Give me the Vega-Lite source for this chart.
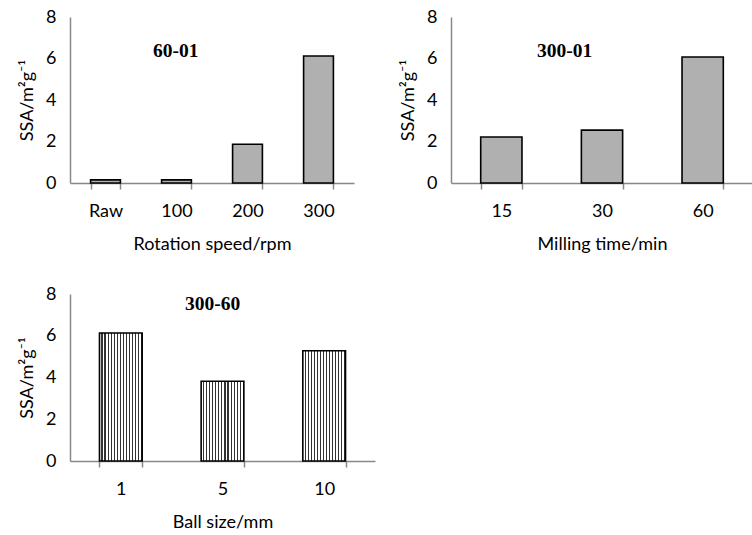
{
  "$schema": "https://vega.github.io/schema/vega-lite/v6.json",
  "background": "white",
  "padding": {"left": 18, "top": 8, "right": 0, "bottom": 0},
  "datasets": {
    "speed": [
      {"speed": "Raw", "ssa": 0.15},
      {"speed": "100", "ssa": 0.15},
      {"speed": "200", "ssa": 1.87},
      {"speed": "300", "ssa": 6.12}
    ],
    "time": [
      {"time": "15", "ssa": 2.22},
      {"time": "30", "ssa": 2.55},
      {"time": "60", "ssa": 6.07}
    ],
    "ball": [
      {"ball": "1", "ssa": 6.13},
      {"ball": "5", "ssa": 3.82},
      {"ball": "10", "ssa": 5.28}
    ]
  },
  "config": {
    "view": {"stroke": null},
    "axis": {
      "labelFont": "Lato", "labelFontSize": 18, "labelColor": "black",
      "titleFont": "Lato", "titleFontSize": 18, "titleFontWeight": "normal", "titleColor": "black",
      "domainColor": "#888888", "domainWidth": 1.5, "tickColor": "#888888", "tickWidth": 1.5, "grid": false, "zindex": 1
    },
    "axisY": {"ticks": false, "labelPadding": 14, "titlePadding": 9},
    "axisX": {"labelAngle": 0, "domain": true, "ticks": true, "tickBand": "extent", "tickSize": 6, "labelPadding": 13, "titlePadding": 15},
    "title": {"font": "Liberation Serif", "fontWeight": "bold", "fontSize": 19.5, "color": "black", "anchor": "start", "frame": "group", "baseline": "middle"},
    "bar": {"stroke": "black", "strokeWidth": 1.6}
  },
  "spacing": 32,
  "vconcat": [
    {
      "spacing": 45,
      "hconcat": [
        {
          "width": 284, "height": 166,
          "data": {"name": "speed"},
          "title": {"text": "60-01", "dx": 83, "offset": -53},
          "mark": {"type": "bar", "fill": "#b0b0b0"},
          "encoding": {
            "x": {"field": "speed", "type": "nominal", "sort": null, "title": "Rotation speed/rpm", "scale": {"paddingInner": 0.58}},
            "y": {"field": "ssa", "type": "quantitative", "title": "SSA/m²g⁻¹", "scale": {"domain": [0, 8]}, "axis": {"values": [0, 2, 4, 6, 8]}}
          }
        },
        {
          "width": 302, "height": 166,
          "data": {"name": "time"},
          "title": {"text": "300-01", "dx": 86, "offset": -53},
          "mark": {"type": "bar", "fill": "#b0b0b0"},
          "encoding": {
            "x": {"field": "time", "type": "nominal", "sort": null, "title": "Milling time/min", "scale": {"paddingInner": 0.59}},
            "y": {"field": "ssa", "type": "quantitative", "title": "SSA/m²g⁻¹", "scale": {"domain": [0, 8]}, "axis": {"values": [0, 2, 4, 6, 8]}}
          }
        }
      ]
    },
    {
      "width": 305, "height": 167,
      "data": {"name": "ball"},
      "title": {"text": "300-60", "dx": 115, "offset": -29},
      "mark": {
        "type": "bar",
        "fill": {
          "gradient": "linear", "x1": 0, "y1": 0, "x2": 1, "y2": 0,
          "stops": [
            {"offset": 0, "color": "#ffffff"}, {"offset": 0.045, "color": "#ffffff"}, {"offset": 0.0451, "color": "#333333"}, {"offset": 0.0713, "color": "#333333"},
            {"offset": 0.0714, "color": "#ffffff"}, {"offset": 0.1164, "color": "#ffffff"}, {"offset": 0.1165, "color": "#333333"}, {"offset": 0.1428, "color": "#333333"},
            {"offset": 0.1429, "color": "#ffffff"}, {"offset": 0.1879, "color": "#ffffff"}, {"offset": 0.188, "color": "#333333"}, {"offset": 0.2142, "color": "#333333"},
            {"offset": 0.2143, "color": "#ffffff"}, {"offset": 0.2593, "color": "#ffffff"}, {"offset": 0.2594, "color": "#333333"}, {"offset": 0.2856, "color": "#333333"},
            {"offset": 0.2857, "color": "#ffffff"}, {"offset": 0.3307, "color": "#ffffff"}, {"offset": 0.3308, "color": "#333333"}, {"offset": 0.357, "color": "#333333"},
            {"offset": 0.3571, "color": "#ffffff"}, {"offset": 0.4021, "color": "#ffffff"}, {"offset": 0.4022, "color": "#333333"}, {"offset": 0.4285, "color": "#333333"},
            {"offset": 0.4286, "color": "#ffffff"}, {"offset": 0.4736, "color": "#ffffff"}, {"offset": 0.4737, "color": "#333333"}, {"offset": 0.4999, "color": "#333333"},
            {"offset": 0.5, "color": "#ffffff"}, {"offset": 0.545, "color": "#ffffff"}, {"offset": 0.5451, "color": "#333333"}, {"offset": 0.5713, "color": "#333333"},
            {"offset": 0.5714, "color": "#ffffff"}, {"offset": 0.6164, "color": "#ffffff"}, {"offset": 0.6165, "color": "#333333"}, {"offset": 0.6428, "color": "#333333"},
            {"offset": 0.6429, "color": "#ffffff"}, {"offset": 0.6879, "color": "#ffffff"}, {"offset": 0.688, "color": "#333333"}, {"offset": 0.7142, "color": "#333333"},
            {"offset": 0.7143, "color": "#ffffff"}, {"offset": 0.7593, "color": "#ffffff"}, {"offset": 0.7594, "color": "#333333"}, {"offset": 0.7856, "color": "#333333"},
            {"offset": 0.7857, "color": "#ffffff"}, {"offset": 0.8307, "color": "#ffffff"}, {"offset": 0.8308, "color": "#333333"}, {"offset": 0.857, "color": "#333333"},
            {"offset": 0.8571, "color": "#ffffff"}, {"offset": 0.9021, "color": "#ffffff"}, {"offset": 0.9022, "color": "#333333"}, {"offset": 0.9285, "color": "#333333"},
            {"offset": 0.9286, "color": "#ffffff"}, {"offset": 0.9736, "color": "#ffffff"}, {"offset": 0.9737, "color": "#333333"}, {"offset": 1, "color": "#333333"}
          ]
        }
      },
      "encoding": {
        "x": {"field": "ball", "type": "nominal", "sort": null, "title": "Ball size/mm", "scale": {"paddingInner": 0.58}},
        "y": {"field": "ssa", "type": "quantitative", "title": "SSA/m²g⁻¹", "scale": {"domain": [0, 8]}, "axis": {"values": [0, 2, 4, 6, 8]}}
      }
    }
  ]
}
